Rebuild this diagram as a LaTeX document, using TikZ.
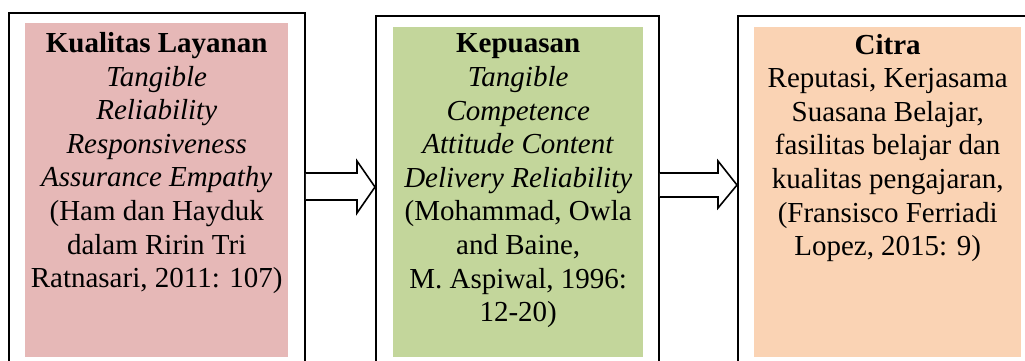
\documentclass[tikz,border=0pt]{standalone}
\usepackage{fontspec}
\setmainfont{Liberation Serif}
\usetikzlibrary{calc}
\definecolor{pinkfill}{HTML}{E6B8B7}
\definecolor{greenfill}{HTML}{C3D69B}
\definecolor{peachfill}{HTML}{FAD3B4}
\tikzset{
  outerbox/.style={draw=black, line width=1.8pt, inner sep=0pt, anchor=north west},
  fillbox/.style={inner sep=0pt, anchor=north west},
  boxtext/.style={inner sep=0pt, anchor=north, align=center, font=\fontsize{29}{33.6}\selectfont},
  blockarrow/.style={draw=black, line width=1.6pt, fill=white, line join=miter}
}
\begin{document}
\begin{tikzpicture}[x=1pt,y=-1pt]
\useasboundingbox (0,0) rectangle (1025,360);
\clip (0,0) rectangle (1025,360);
% outer boxes
\node[outerbox, minimum width=296pt, minimum height=365pt] (b1) at (8,12) {};
\node[outerbox, minimum width=283pt, minimum height=365pt] (b2) at (375,15) {};
\node[outerbox, minimum width=303pt, minimum height=365pt] (b3) at (737,15) {};
% coloured panels
\node[fillbox, fill=pinkfill, minimum width=263pt, minimum height=334pt] (f1) at (25,23) {};
\node[fillbox, fill=greenfill, minimum width=250pt, minimum height=330pt] (f2) at (393,27) {};
\node[fillbox, fill=peachfill, minimum width=267pt, minimum height=330pt] (f3) at (754,27) {};
% texts
\node[boxtext] (t1) at (f1.north |- 0,32.2) {\textbf{Kualitas Layanan}\\ \textit{Tangible}\\ \textit{Reliability}\\ \textit{Responsiveness}\\ \textit{Assurance Empathy}\\ (Ham dan Hayduk\\ dalam Ririn Tri\\ Ratnasari, 2011: 107)};
\node[boxtext] (t2) at (f2.north |- 0,33.8) {\textbf{Kepuasan}\\ \textit{Tangible}\\ \textit{Competence}\\ \textit{Attitude Content}\\ \textit{Delivery Reliability}\\ (Mohammad, Owla\\ and Baine,\\ M. Aspiwal, 1996:\\ 12-20)};
\node[boxtext] (t3) at (f3.north |- 0,33.8) {\textbf{Citra}\\ Reputasi, Kerjasama\\ Suasana Belajar,\\ fasilitas belajar dan\\ kualitas pengajaran,\\ (Fransisco Ferriadi\\ Lopez, 2015: 9)};
% block arrows
\draw[blockarrow] (b1.east |- 0,173) -- (357,173) -- (357,161) -- (b2.west |- 0,187) -- (357,213) -- (357,200) -- (b1.east |- 0,200);
\draw[blockarrow] (b2.east |- 0,173) -- (718,173) -- (718,161) -- (b3.west |- 0,185) -- (718,208) -- (718,197) -- (b2.east |- 0,197);
\end{tikzpicture}
\end{document}
